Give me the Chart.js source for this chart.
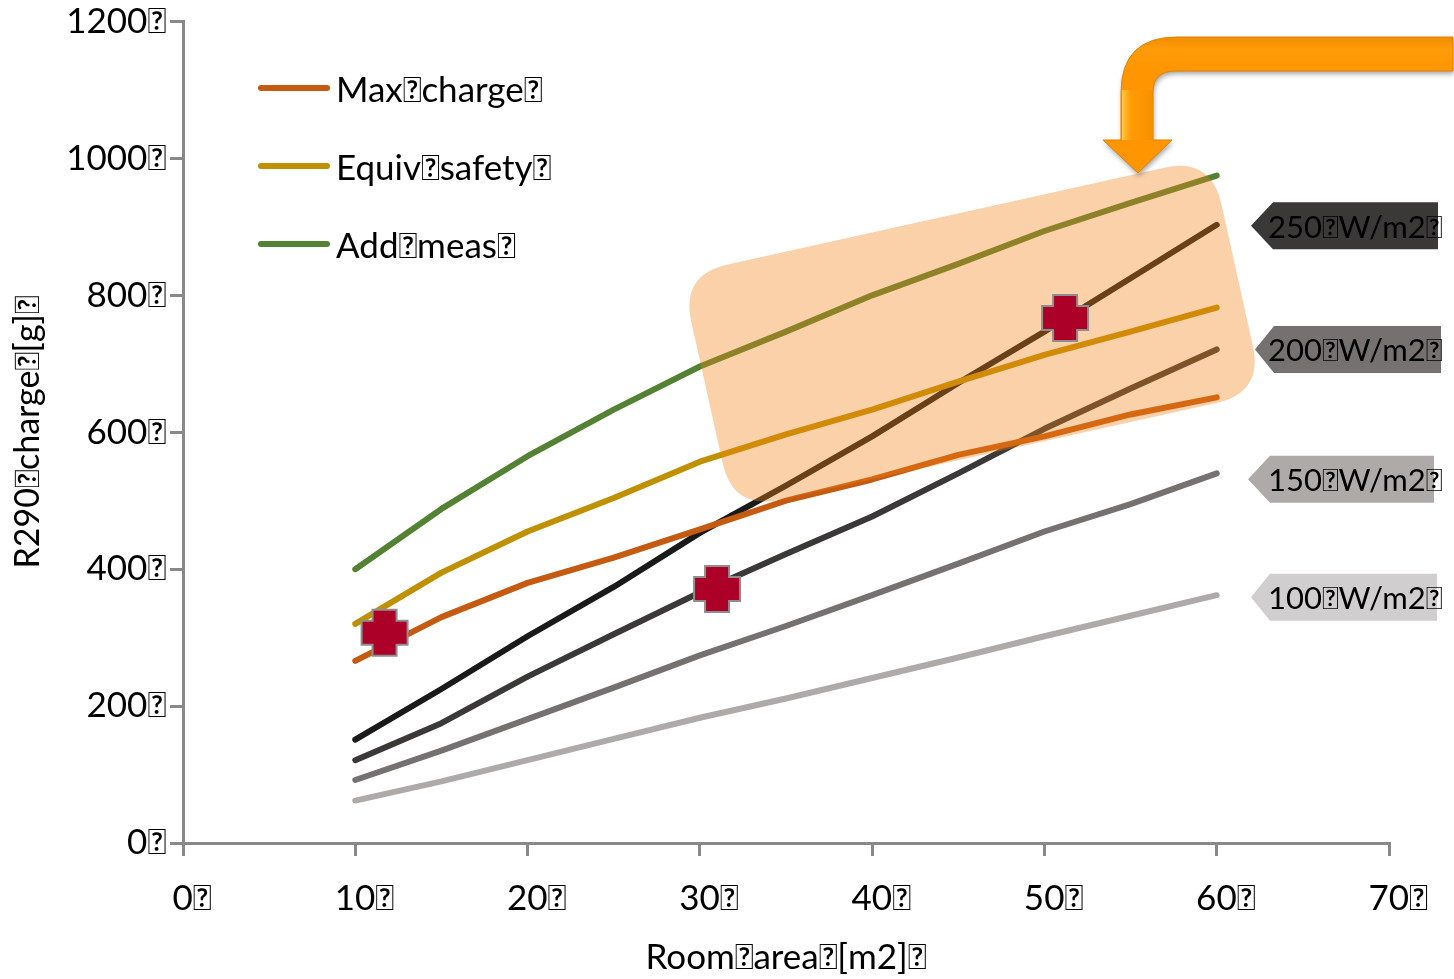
<!DOCTYPE html>
<html><head><meta charset="utf-8">
<script src="https://cdn.jsdelivr.net/npm/chart.js@4.4.0/dist/chart.umd.min.js"></script>
<style>html,body{margin:0;padding:0;background:#fff;overflow:hidden}canvas{display:block}</style>
</head><body>
<canvas id="c" width="1454" height="979"></canvas>
<script>
const T = "\uE000";
const roomArea = [10, 15, 20, 25, 30, 35, 40, 45, 50, 55, 60];
const maxCharge   = [266, 330, 380, 417, 458, 500, 531, 567, 594, 626, 651];
const equivSafety = [320, 395, 455, 504, 557, 597, 633, 674, 713, 747, 782];
const addMeas     = [400, 488, 565, 633, 696, 747, 800, 846, 894, 935, 975];
const w250 = [151, 225, 302, 374, 453, 522, 594, 672, 747, 825, 903];
const w200 = [121, 175, 243, 305, 366, 422, 477, 540, 605, 664, 721];
const w150 = [92, 135, 181, 227, 274, 317, 362, 408, 455, 495, 540];
const w100 = [62, 90, 121, 152, 183, 211, 241, 271, 302, 332, 362];
const seriesNames = ["Max" + T + "charge" + T, "Equiv" + T + "safety" + T, "Add" + T + "meas" + T,
  "250" + T + "W/m2" + T, "200" + T + "W/m2" + T, "150" + T + "W/m2" + T, "100" + T + "W/m2" + T];
const xTickLabels = ["0" + T, "10" + T, "20" + T, "30" + T, "40" + T, "50" + T, "60" + T, "70" + T];
const yTickLabels = ["0" + T, "200" + T, "400" + T, "600" + T, "800" + T, "1000" + T, "1200" + T];
const xTitle = "Room" + T + "area" + T + "[m2]" + T;
const yTitle = "R290" + T + "charge" + T + "[g]" + T;
const markerArea = [11.7, 31.0, 51.2];
const markerCharge = [307, 371, 767];

const seriesValues = [maxCharge, equivSafety, addMeas, w250, w200, w150, w100];
const seriesColors = ["#C55A11", "#BF9000", "#548235", "#1A1A1A", "#3B3838", "#767171", "#AEAAAA"];
const calloutColors = [null, null, null, "#3B3838", "#767171", "#AEAAAA", "#D0CECE"];
const FONT = "Lato, 'DejaVu Sans', sans-serif";

const datasets = seriesValues.map((vals, i) => ({
  label: seriesNames[i],
  data: roomArea.map((x, j) => ({ x: x, y: vals[j] })),
  borderColor: seriesColors[i],
  backgroundColor: seriesColors[i],
  borderWidth: 6,
  pointRadius: 0,
  tension: 0,
  borderCapStyle: 'round',
  borderJoinStyle: 'round',
  fill: false,
  clip: false
}));

function roundRectPath(ctx, x, y, w, h, r) {
  ctx.beginPath();
  ctx.moveTo(x + r, y);
  ctx.lineTo(x + w - r, y);
  ctx.quadraticCurveTo(x + w, y, x + w, y + r);
  ctx.lineTo(x + w, y + h - r);
  ctx.quadraticCurveTo(x + w, y + h, x + w - r, y + h);
  ctx.lineTo(x + r, y + h);
  ctx.quadraticCurveTo(x, y + h, x, y + h - r);
  ctx.lineTo(x, y + r);
  ctx.quadraticCurveTo(x, y, x + r, y);
  ctx.closePath();
}

const overlay = {
  id: 'overlay',
  afterDatasetsDraw(chart) {
    const ctx = chart.ctx, xs = chart.scales.x, ys = chart.scales.y;
    // highlight box
    ctx.save();
    const cx = xs.getPixelForValue(45.8), cy = ys.getPixelForValue(744);
    ctx.translate(cx, cy);
    ctx.rotate(-12.5 * Math.PI / 180);
    ctx.fillStyle = 'rgba(242,130,18,0.37)';
    roundRectPath(ctx, -271.5, -120.5, 543, 241, 48);
    ctx.fill();
    ctx.restore();

    // red cross markers
    markerArea.forEach((a, i) => {
      const px = xs.getPixelForValue(a), py = ys.getPixelForValue(markerCharge[i]);
      const s = 23, w = 12;
      ctx.save();
      ctx.beginPath();
      ctx.moveTo(px - w, py - s); ctx.lineTo(px + w, py - s); ctx.lineTo(px + w, py - w);
      ctx.lineTo(px + s, py - w); ctx.lineTo(px + s, py + w); ctx.lineTo(px + w, py + w);
      ctx.lineTo(px + w, py + s); ctx.lineTo(px - w, py + s); ctx.lineTo(px - w, py + w);
      ctx.lineTo(px - s, py + w); ctx.lineTo(px - s, py - w); ctx.lineTo(px - w, py - w);
      ctx.closePath();
      ctx.fillStyle = '#AD0028';
      ctx.fill();
      ctx.lineWidth = 2;
      ctx.strokeStyle = '#8E8E8E';
      ctx.stroke();
      ctx.restore();
    });

    // legend
    ctx.save();
    for (let i = 0; i < 3; i++) {
      const y = 88 + i * 78;
      ctx.beginPath();
      ctx.moveTo(261, y); ctx.lineTo(327, y);
      ctx.lineWidth = 6; ctx.lineCap = 'round';
      ctx.strokeStyle = seriesColors[i];
      ctx.stroke();
      ctx.fillStyle = '#000';
      ctx.font = "35px " + FONT;
      ctx.textBaseline = 'middle';
      ctx.textAlign = 'left';
      ctx.fillText(seriesNames[i], 336, y + 3);
    }
    ctx.restore();

    // callouts
    const co = [
      null, null, null,
      { dy: 1, p: 1251, l: 1273, r: 1438 },
      { dy: 0, p: 1255, l: 1274, r: 1441 },
      { dy: 6, p: 1248, l: 1270, r: 1434 },
      { dy: 2, p: 1251, l: 1270, r: 1437 }
    ];
    for (let i = 3; i < 7; i++) {
      const vals = seriesValues[i];
      const yc = ys.getPixelForValue(vals[vals.length - 1]) + co[i].dy;
      const h = 47;
      ctx.save();
      ctx.beginPath();
      ctx.moveTo(co[i].p, yc);
      ctx.lineTo(co[i].l, yc - h / 2);
      ctx.lineTo(co[i].r, yc - h / 2);
      ctx.lineTo(co[i].r, yc + h / 2);
      ctx.lineTo(co[i].l, yc + h / 2);
      ctx.closePath();
      ctx.fillStyle = calloutColors[i];
      ctx.fill();
      ctx.fillStyle = '#000';
      ctx.font = "31px " + FONT;
      ctx.textBaseline = 'middle';
      ctx.textAlign = 'left';
      ctx.fillText(seriesNames[i], 1268, yc + 2);
      ctx.restore();
    }

    // bent arrow
    ctx.save();
    ctx.shadowColor = 'rgba(0,0,0,0.35)';
    ctx.shadowBlur = 5; ctx.shadowOffsetX = 1; ctx.shadowOffsetY = 3;
    ctx.beginPath();
    ctx.moveTo(1453, 37);
    ctx.lineTo(1177, 37);
    ctx.quadraticCurveTo(1121, 37, 1121, 93);
    ctx.lineTo(1121, 140);
    ctx.lineTo(1103, 140);
    ctx.lineTo(1138, 173);
    ctx.lineTo(1172, 140);
    ctx.lineTo(1153, 140);
    ctx.lineTo(1153, 92);
    ctx.quadraticCurveTo(1153, 71, 1176, 71);
    ctx.lineTo(1453, 71);
    ctx.closePath();
    const g = ctx.createLinearGradient(0, 37, 0, 71);
    g.addColorStop(0, '#F08C00');
    g.addColorStop(0.35, '#FF9C0A');
    g.addColorStop(1, '#FF9500');
    ctx.fillStyle = g;
    ctx.fill();
    ctx.shadowColor = 'transparent';
    ctx.lineWidth = 1;
    ctx.strokeStyle = '#E08300';
    ctx.stroke();
    const g2 = ctx.createLinearGradient(1121, 0, 1153, 0);
    g2.addColorStop(0, 'rgba(255,215,90,0.9)');
    g2.addColorStop(0.35, 'rgba(255,170,20,0.2)');
    g2.addColorStop(1, 'rgba(230,130,0,0.3)');
    ctx.fillStyle = g2;
    ctx.fillRect(1122, 90, 30, 50);
    ctx.restore();
  }
};

new Chart(document.getElementById('c'), {
  type: 'line',
  data: { datasets: datasets },
  plugins: [overlay],
  options: {
    responsive: false,
    animation: false,
    devicePixelRatio: 1,
    layout: { padding: { top: 19, right: 65, left: 0, bottom: 0 } },
    plugins: { legend: { display: false }, tooltip: { enabled: false } },
    scales: {
      x: {
        type: 'linear', min: 0, max: 70,
        afterFit: (s) => { s.height = 136; },
        ticks: {
          stepSize: 10,
          callback: (v) => xTickLabels[Math.round(v / 10)],
          font: { family: FONT, size: 35, lineHeight: 1.0 },
          color: '#000',
          padding: 25,
          labelOffset: 9,
          maxRotation: 0
        },
        grid: { drawOnChartArea: false, drawTicks: true, tickLength: 13, color: '#898989', lineWidth: 3 },
        border: { display: true, color: '#898989', width: 3 },
        title: { display: true, text: xTitle, font: { family: FONT, size: 35, lineHeight: 1.0 }, color: '#000', padding: { top: 0, bottom: 4 } }
      },
      y: {
        type: 'linear', min: 0, max: 1200,
        afterFit: (s) => { s.width = 183; },
        ticks: {
          stepSize: 200,
          callback: (v) => yTickLabels[Math.round(v / 200)],
          font: { family: FONT, size: 35, lineHeight: 1.0 },
          color: '#000',
          padding: 4
        },
        grid: { drawOnChartArea: false, drawTicks: true, tickLength: 13, color: '#898989', lineWidth: 3 },
        border: { display: true, color: '#898989', width: 3 },
        title: { display: true, text: yTitle, font: { family: FONT, size: 34, lineHeight: 1.0 }, color: '#000', padding: { top: 11, bottom: 0 } }
      }
    }
  }
});
</script>
</body></html>
